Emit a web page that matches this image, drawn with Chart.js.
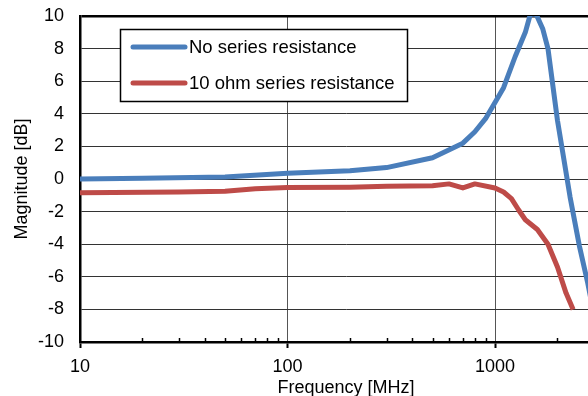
<!DOCTYPE html>
<html>
<head>
<meta charset="utf-8">
<script src="https://cdn.jsdelivr.net/npm/chart.js@4"></script>
<style>
  html, body { margin: 0; padding: 0; background: #fff; overflow: hidden; }
  #wrap { width: 612px; height: 399px; }
</style>
</head>
<body>
<div id="wrap"><canvas id="magChart"></canvas></div>
<script>
// frequency response, MHz vs dB
var freqNoR = [10, 20, 50, 100, 200, 300, 500, 700, 800, 900, 1000, 1100, 1250, 1400, 1480, 1580, 1700, 1800, 2000, 2300, 2550, 2800, 3300];
var magNoR  = [0, 0.05, 0.12, 0.35, 0.5, 0.7, 1.3, 2.2, 2.9, 3.7, 4.7, 5.6, 7.5, 9.0, 10.1, 10.1, 9.2, 8.0, 3.6, -1.1, -4.1, -6.4, -11];
var freqR10 = [10, 30, 50, 70, 100, 200, 300, 500, 600, 700, 800, 1000, 1100, 1200, 1300, 1400, 1600, 1800, 2000, 2200, 2380];
var magR10  = [-0.85, -0.8, -0.75, -0.6, -0.52, -0.5, -0.45, -0.42, -0.3, -0.55, -0.3, -0.55, -0.8, -1.2, -1.9, -2.5, -3.1, -4.0, -5.4, -7.0, -8.0];
var seriesNames = ['No series resistance', '10 ohm series resistance'];
var seriesColors = ['#4a7ebb', '#be4b48'];
var decades = [10, 100, 1000];
var minorTicks = [20, 30, 40, 50, 60, 70, 80, 90, 200, 300, 400, 500, 600, 700, 800, 900, 2000, 3000];

function toPoints(xs, ys) {
  return xs.map(function (x, i) { return { x: x, y: ys[i] }; });
}

var font = "'Liberation Sans', Arial, sans-serif";
Chart.defaults.font.family = font;
Chart.defaults.color = '#000';

// legend box drawn inside the plot, plus the small inward minor ticks
var plotExtras = {
  id: 'plotExtras',
  afterDraw: function (chart) {
    var ctx = chart.ctx;
    var xs = chart.scales.x;
    var bottom = chart.chartArea.bottom;
    ctx.save();
    ctx.strokeStyle = '#000';
    ctx.lineWidth = 1.5;
    minorTicks.forEach(function (v) {
      var px = Math.round(xs.getPixelForValue(v)) + 0.5;
      ctx.beginPath();
      ctx.moveTo(px, bottom);
      ctx.lineTo(px, bottom - 4);
      ctx.stroke();
    });

    ctx.fillStyle = '#fff';
    ctx.fillRect(120, 29, 288, 72);
    ctx.lineWidth = 1.5;
    ctx.strokeRect(120.5, 29.5, 287, 72);
    ctx.font = '18.5px ' + font;
    ctx.textBaseline = 'middle';
    ctx.lineCap = 'round';
    chart.data.datasets.forEach(function (ds, i) {
      var y = i === 0 ? 47 : 83;
      ctx.strokeStyle = ds.borderColor;
      ctx.lineWidth = 5;
      ctx.beginPath();
      ctx.moveTo(133, y);
      ctx.lineTo(185, y);
      ctx.stroke();
      ctx.fillStyle = '#000';
      ctx.fillText(ds.label, 189, y + 1);
    });
    ctx.restore();
  }
};

new Chart(document.getElementById('magChart'), {
  type: 'line',
  data: {
    datasets: [
      { label: seriesNames[0], data: toPoints(freqNoR, magNoR), borderColor: seriesColors[0], borderWidth: 5, pointRadius: 0, tension: 0, clip: 0, borderJoinStyle: 'round' },
      { label: seriesNames[1], data: toPoints(freqR10, magR10), borderColor: seriesColors[1], borderWidth: 5, pointRadius: 0, tension: 0, clip: 0, borderJoinStyle: 'round' }
    ]
  },
  options: {
    responsive: true,
    maintainAspectRatio: false,
    animation: false,
    layout: { padding: { top: 16, right: 0, left: 0, bottom: 0 } },
    plugins: { legend: { display: false }, tooltip: { enabled: false } },
    scales: {
      x: {
        type: 'logarithmic',
        min: 10,
        max: 10 ** (1 + 532 / 207.5),
        afterBuildTicks: function (scale) {
          scale.ticks = decades.map(function (v) { return { value: v }; });
        },
        afterFit: function (scale) { scale.height = 57; },
        ticks: {
          autoSkip: false, maxRotation: 0, padding: 8,
          font: { size: 18 },
          callback: function (v) { return String(v); }
        },
        grid: { color: '#555', lineWidth: 1, tickLength: 6, tickColor: '#000', tickWidth: 2 },
        border: { color: '#000', width: 2.5 },
        title: { display: true, text: 'Frequency [MHz]', font: { size: 18 }, padding: { top: 0, bottom: 0 } }
      },
      y: {
        min: -10,
        max: 10,
        afterFit: function (scale) {
          scale.width = 80;
          scale.paddingTop = 0;
          scale.paddingBottom = 0;
        },
        ticks: { stepSize: 2, padding: 16, font: { size: 18 } },
        grid: {
          drawTicks: false,
          color: function (c) { return c.tick && c.tick.value === 10 ? '#000' : '#333'; },
          lineWidth: function (c) { return c.tick && c.tick.value === 10 ? 2.5 : 1; }
        },
        border: { color: '#000', width: 2.5 },
        title: { display: true, text: 'Magnitude [dB]', font: { size: 18 }, padding: { top: 11, bottom: 0 } }
      }
    }
  },
  plugins: [plotExtras]
});
</script>
</body>
</html>
